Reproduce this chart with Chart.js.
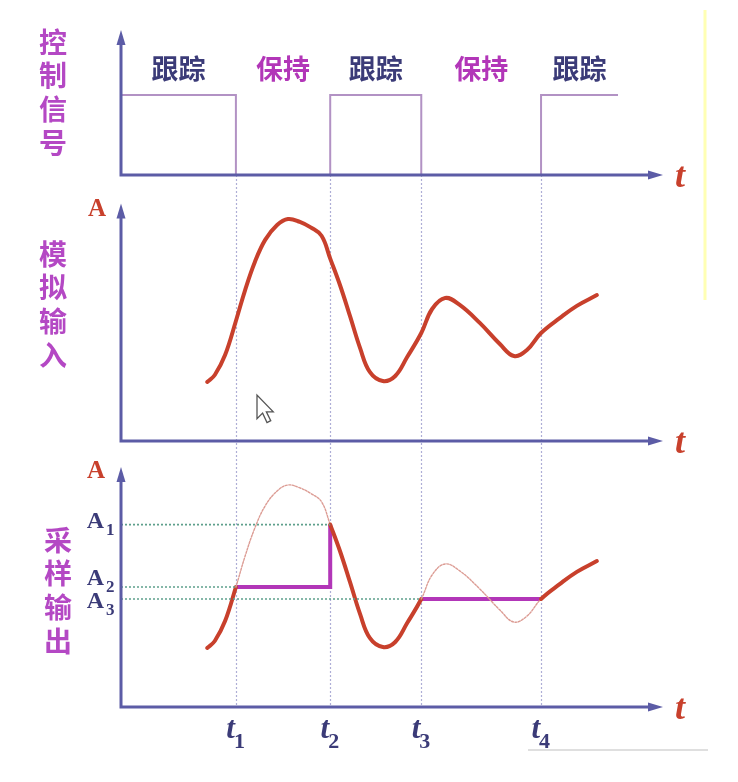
<!DOCTYPE html>
<html>
<head>
<meta charset="utf-8">
<script src="https://cdn.jsdelivr.net/npm/chart.js@4/dist/chart.umd.min.js"></script>
<style>
html, body { margin: 0; padding: 0; background: #fff; }
#wrap { width: 738px; height: 782px; }
</style>
</head>
<body>
<div id="wrap"><canvas id="sampleChart" width="738" height="782"></canvas></div>
<script>
// 采样-保持示意图

// 采样时刻 t1..t4
const sampleTimes = [21.2, 38.6, 55.4, 77.5];
const sampleNames = ['1', '2', '3', '4'];

// 控制信号 (1 = 跟踪, 0 = 保持)
const controlTimes = [0, 21.2, 21.2, 38.6, 38.6, 55.4, 55.4, 77.5, 77.5, 91.7];
const controlLevels = [1, 1, 0, 0, 1, 1, 0, 0, 1, 1];
const controlLabels = ['跟踪', '保持', '跟踪', '保持', '跟踪'];

// 模拟输入
const inputTimes = [15.9, 17.3, 19.2, 21.2, 22.9, 24.7, 26.6, 28.8, 30.8, 33.0, 35.0, 37.0, 38.6, 40.4, 42.3, 44.1, 45.9, 48.3, 50.6, 52.8, 55.4, 57.4, 59.8, 62.5, 66.2, 69.9, 72.5, 74.9, 77.5, 81.0, 84.1, 87.8];
const inputValues = [24.6, 27.5, 35.8, 50, 62.9, 74.6, 83.8, 90, 92.5, 91.3, 89, 85.5, 76, 65, 51.7, 38.8, 28.8, 25, 27.1, 35, 45, 55, 59.6, 56.7, 49.2, 40.4, 35.4, 37.9, 45, 51.3, 56.3, 60.8];

// 保持电平 A1, A2, A3 以及参考虚线的终点
const levelNames = ['1', '2', '3'];
const levelValues = [76, 50, 45];
const levelEnds = [38.6, 21.2, 55.4];

// 采样输出中的保持段
const holdTimes1 = [21.2, 38.6, 38.6];
const holdLevels1 = [50, 50, 76];
const holdTimes2 = [55.4, 77.5];
const holdLevels2 = [45, 45];

const AXIS = '#5c5ca6';
const RED = '#c8402c';
const NAVY = '#3b3b78';
const MAGENTA = '#b236b8';

// 画布布局
const X_LEFT = 121, X_RIGHT = 663, Y_TOP = 30, Y_BOTTOM = 707;
const zeroCtrl = 175, zeroIn = 441, zeroOut = 707;

function range(zeroPx, pxPerUnit) {
    return { min: -(Y_BOTTOM - zeroPx) / pxPerUnit, max: (zeroPx - Y_TOP) / pxPerUnit };
}

function toPoints(xs, ys) {
    return xs.map((x, i) => ({ x: x, y: ys[i] }));
}

function isHold(x) {
    return (x >= sampleTimes[0] && x < sampleTimes[1]) || (x >= sampleTimes[2] && x < sampleTimes[3]);
}

function arrowUp(ctx, x, y) {
    ctx.beginPath();
    ctx.moveTo(x, y);
    ctx.lineTo(x - 4.5, y + 15);
    ctx.lineTo(x + 4.5, y + 15);
    ctx.closePath();
    ctx.fill();
}

function arrowRight(ctx, x, y) {
    ctx.beginPath();
    ctx.moveTo(x, y);
    ctx.lineTo(x - 15, y - 4.5);
    ctx.lineTo(x - 15, y + 4.5);
    ctx.closePath();
    ctx.fill();
}

// 竖向采样时刻虚线
const guidePlugin = {
    id: 'guides',
    beforeDatasetsDraw(chart) {
        const { ctx, scales } = chart;
        const top = scales.yCtrl.getPixelForValue(0);
        const bottom = scales.yOut.getPixelForValue(0);
        ctx.save();
        ctx.strokeStyle = '#aeaed6';
        ctx.lineWidth = 1.2;
        ctx.setLineDash([2, 2]);
        sampleTimes.forEach(t => {
            const x = Math.round(scales.x.getPixelForValue(t)) + 0.5;
            ctx.beginPath();
            ctx.moveTo(x, top);
            ctx.lineTo(x, bottom);
            ctx.stroke();
        });
        ctx.restore();
    }
};

// 坐标轴与箭头
const axisPlugin = {
    id: 'axes',
    afterDatasetsDraw(chart) {
        const { ctx, scales, chartArea } = chart;
        const panels = [
            { id: 'yCtrl', tip: null },
            { id: 'yIn', tip: 99 },
            { id: 'yOut', tip: 100 }
        ];
        ctx.save();
        ctx.strokeStyle = AXIS;
        ctx.fillStyle = AXIS;
        ctx.lineWidth = 3;
        panels.forEach(p => {
            const s = scales[p.id];
            const y0 = s.getPixelForValue(0);
            const yTip = p.tip === null ? chartArea.top : s.getPixelForValue(p.tip);
            const x0 = chartArea.left;
            ctx.beginPath();
            ctx.moveTo(x0, y0);
            ctx.lineTo(x0, yTip + 12);
            ctx.moveTo(x0 - 1.5, y0);
            ctx.lineTo(chartArea.right - 12, y0);
            ctx.stroke();
            arrowUp(ctx, x0, yTip);
            arrowRight(ctx, chartArea.right, y0);
        });
        ctx.restore();
    }
};

// 文字与装饰
const textPlugin = {
    id: 'texts',
    afterDraw(chart) {
        const { ctx, scales, chartArea } = chart;
        const xs = scales.x;
        ctx.save();
        ctx.textAlign = 'center';
        ctx.textBaseline = 'middle';

        // 跟踪 / 保持
        const edges = [0].concat(sampleTimes, [controlTimes[controlTimes.length - 1]]);
        ctx.font = 'bold 27px "Noto Sans CJK SC"';
        controlLabels.forEach((label, i) => {
            const x = (xs.getPixelForValue(edges[i]) + xs.getPixelForValue(edges[i + 1])) / 2;
            ctx.fillStyle = label === '保持' ? MAGENTA : NAVY;
            ctx.fillText(label, x, 69);
        });

        // 左侧竖排标题
        ctx.font = 'bold 28px "Noto Sans CJK SC"';
        ctx.fillStyle = '#b448c4';
        const titles = [
            { text: '控制信号', x: 53, y: 42 },
            { text: '模拟输入', x: 53, y: 254 },
            { text: '采样输出', x: 58, y: 540 }
        ];
        titles.forEach(t => {
            Array.from(t.text).forEach((ch, i) => ctx.fillText(ch, t.x, t.y + i * 33.8));
        });

        // 纵轴 A
        ctx.font = 'bold 25px "Liberation Serif"';
        ctx.fillStyle = RED;
        ctx.fillText('A', 97, 210);
        ctx.fillText('A', 96, 472);

        // 横轴 t
        ctx.font = 'bold italic 36px "Liberation Serif"';
        ['yCtrl', 'yIn', 'yOut'].forEach(id => {
            ctx.fillText('t', chartArea.right + 17, scales[id].getPixelForValue(0) + 3);
        });

        // A1 A2 A3
        const yo = scales.yOut;
        const shifts = [3, -2, 9];
        ctx.fillStyle = NAVY;
        ctx.textBaseline = 'alphabetic';
        levelValues.forEach((v, i) => {
            const base = yo.getPixelForValue(v) + shifts[i];
            ctx.textAlign = 'right';
            ctx.font = 'bold 24px "Liberation Serif"';
            ctx.fillText('A', 104, base);
            ctx.textAlign = 'left';
            ctx.font = 'bold 17px "Liberation Serif"';
            ctx.fillText(levelNames[i], 106, base + 7);
        });

        // t1..t4
        const yBase = yo.getPixelForValue(0);
        sampleTimes.forEach((t, i) => {
            const x = xs.getPixelForValue(t);
            ctx.textAlign = 'right';
            ctx.font = 'bold italic 31px "Liberation Serif"';
            ctx.fillText('t', x - 1, yBase + 31);
            ctx.textAlign = 'left';
            ctx.font = 'bold 22px "Liberation Serif"';
            ctx.fillText(sampleNames[i], x - 2, yBase + 41);
        });

        // 截图残留：黄色竖线、灰色横线、鼠标
        ctx.strokeStyle = '#ffffb4';
        ctx.lineWidth = 3;
        ctx.beginPath();
        ctx.moveTo(705, 10);
        ctx.lineTo(705, 300);
        ctx.stroke();
        ctx.strokeStyle = '#d4d4d4';
        ctx.lineWidth = 1.5;
        ctx.beginPath();
        ctx.moveTo(528, 750);
        ctx.lineTo(708, 750);
        ctx.stroke();

        const cur = [[0, 0], [0, 19], [4.5, 14.5], [8, 22], [11, 20.5], [7.5, 13.5], [13, 13.5]];
        ctx.beginPath();
        cur.forEach((p, i) => {
            const px = 257 + p[0] * 1.25, py = 395 + p[1] * 1.25;
            if (i === 0) ctx.moveTo(px, py); else ctx.lineTo(px, py);
        });
        ctx.closePath();
        ctx.fillStyle = '#ffffff';
        ctx.fill();
        ctx.strokeStyle = '#555555';
        ctx.lineWidth = 1.3;
        ctx.stroke();

        ctx.restore();
    }
};

const line = { showLine: true, pointRadius: 0, fill: false };

new Chart(document.getElementById('sampleChart').getContext('2d'), {
    type: 'scatter',
    data: {
        datasets: [
            Object.assign({}, line, {
                label: '控制信号',
                data: toPoints(controlTimes, controlLevels),
                yAxisID: 'yCtrl',
                borderColor: '#b292c4',
                borderWidth: 2
            }),
            // 参考虚线 A1, A2, A3
            ...levelValues.map((v, i) => Object.assign({}, line, {
                label: 'A' + levelNames[i],
                data: toPoints([0, levelEnds[i]], [v, v]),
                yAxisID: 'yOut',
                borderColor: '#5ea08c',
                borderWidth: 1.6,
                borderDash: [2, 2]
            })),
            Object.assign({}, line, {
                label: '模拟输入',
                data: toPoints(inputTimes, inputValues),
                yAxisID: 'yIn',
                borderColor: RED,
                borderWidth: 4,
                tension: 0.4,
                borderCapStyle: 'round',
                borderJoinStyle: 'round'
            }),
            Object.assign({}, line, {
                label: '采样输出',
                data: toPoints(inputTimes, inputValues),
                yAxisID: 'yOut',
                borderColor: RED,
                borderWidth: 4,
                tension: 0.4,
                borderCapStyle: 'round',
                borderJoinStyle: 'round',
                segment: {
                    borderWidth: c => isHold(c.p0.parsed.x) ? 1.4 : 4,
                    borderColor: c => isHold(c.p0.parsed.x) ? '#dc9c94' : RED,
                    borderDash: c => isHold(c.p0.parsed.x) ? [2, 1.5] : undefined
                }
            }),
            Object.assign({}, line, {
                label: '保持1',
                data: toPoints(holdTimes1, holdLevels1),
                yAxisID: 'yOut',
                borderColor: MAGENTA,
                borderWidth: 4
            }),
            Object.assign({}, line, {
                label: '保持2',
                data: toPoints(holdTimes2, holdLevels2),
                yAxisID: 'yOut',
                borderColor: MAGENTA,
                borderWidth: 4
            })
        ]
    },
    options: {
        responsive: false,
        animation: false,
        events: [],
        layout: {
            padding: { left: X_LEFT, right: 738 - X_RIGHT, top: Y_TOP, bottom: 782 - Y_BOTTOM }
        },
        scales: {
            x: { type: 'linear', min: 0, max: 100, display: false },
            yCtrl: Object.assign({ type: 'linear', display: false }, range(zeroCtrl, 80)),
            yIn: Object.assign({ type: 'linear', display: false }, range(zeroIn, 2.4)),
            yOut: Object.assign({ type: 'linear', display: false }, range(zeroOut, 2.4))
        },
        plugins: {
            legend: { display: false },
            tooltip: { enabled: false }
        }
    },
    plugins: [guidePlugin, axisPlugin, textPlugin]
});
</script>
</body>
</html>
